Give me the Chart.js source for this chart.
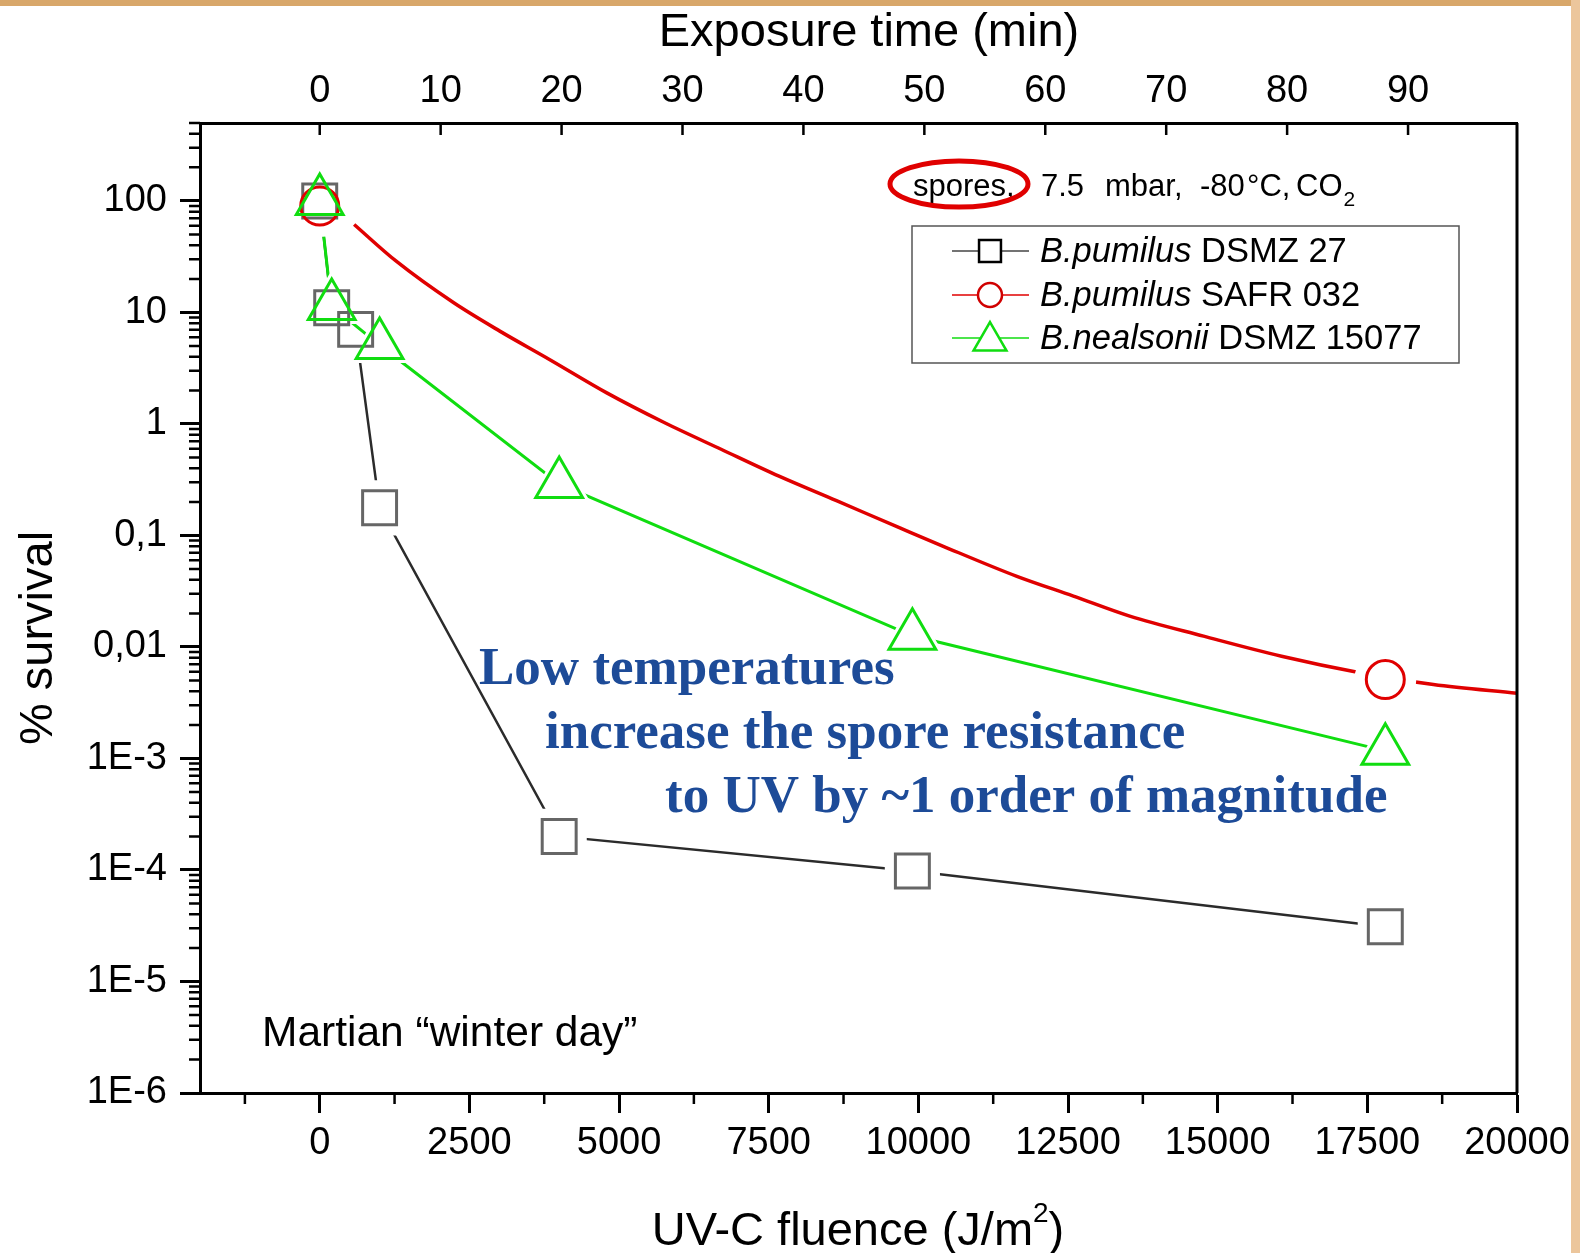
<!DOCTYPE html>
<html>
<head>
<meta charset="utf-8">
<script src="https://cdn.jsdelivr.net/npm/chart.js@4.4.1/dist/chart.umd.min.js"></script>
<style>
  html, body { margin: 0; padding: 0; background: #fff; }
  canvas { display: block; }
</style>
</head>
<body>
<canvas id="survival-chart" width="1580" height="1253"></canvas>
<script>
// UV-C fluence in J/m2, survival in %
const squareFluence = [0, 200, 600, 1000, 4000, 9900, 17800];
const squareSurvival = [100, 11, 7.05, 0.177, 2.0e-4, 9.8e-5, 3.1e-5];

const circleFluence = [0, 17800];
const circleSurvival = [90, 0.0051];

// fitted curve for the SAFR 032 points (visible part)
const fitFluence = [575, 1278, 2239, 3008, 3837, 4795, 5754, 6713, 7672, 8632, 9691, 10416, 11646, 12590, 13531, 14764, 16067, 17335, 18603, 20000];
const fitSurvival = [61.5, 28.8, 12.2, 6.8, 3.79, 1.9, 1.03, 0.59, 0.34, 0.205, 0.117, 0.080, 0.043, 0.0286, 0.0189, 0.0125, 0.00826, 0.00594, 0.00461, 0.00385];

const triangleFluence = [0, 200, 1000, 4000, 9900, 17800];
const triangleSurvival = [100, 11.4, 5.1, 0.29, 0.0126, 0.00117];

const seriesNames = ["B.pumilus", "B.pumilus", "B.nealsonii"];
const seriesStrains = ["DSMZ 27", "SAFR 032", "DSMZ 15077"];

const xTicks = [0, 2500, 5000, 7500, 10000, 12500, 15000, 17500, 20000];
const xMinorTicks = [-1250, 1250, 3750, 6250, 8750, 11250, 13750, 16250, 18750];
const yTicks = [1e-6, 1e-5, 1e-4, 1e-3, 0.01, 0.1, 1, 10, 100];
const yTickLabels = ["1E-6", "1E-5", "1E-4", "1E-3", "0,01", "0,1", "1", "10", "100"];
const timeTicks = [0, 10, 20, 30, 40, 50, 60, 70, 80, 90];
const fluencePerMinute = 202; // J/m2 per minute of exposure

const SANS = "'Liberation Sans', Arial, sans-serif";
const SERIF = "'Liberation Serif', 'Times New Roman', serif";

const RED = "#e00000";
const GREEN = "#10dd10";
const GREY = "#666666";

function pts(xs, ys) {
    return xs.map((x, i) => ({ x: x, y: ys[i] }));
}

function markerPath(ctx, style, x, y, r) {
    ctx.beginPath();
    if (style === "rect") {
        const s = r * Math.SQRT1_2;
        ctx.rect(x - s, y - s, 2 * s, 2 * s);
    } else if (style === "circle") {
        ctx.arc(x, y, r, 0, Math.PI * 2);
    } else {
        ctx.moveTo(x, y - r);
        ctx.lineTo(x + r * 0.866, y + r / 2);
        ctx.lineTo(x - r * 0.866, y + r / 2);
        ctx.closePath();
    }
}

// white shapes slightly bigger than the markers, so the lines stop short of them
function maskSet(data, style, radius, order) {
    return {
        data: data, showLine: false, pointStyle: style, pointRadius: radius,
        pointBackgroundColor: "#fff", pointBorderWidth: 0, pointBorderColor: "#fff", order: order,
    };
}

const decoration = {
    id: "decoration",
    beforeDraw(chart) {
        const ctx = chart.ctx;
        ctx.save();
        ctx.fillStyle = "#fff";
        ctx.fillRect(0, 0, chart.width, chart.height);
        // bits of the slide background around the pasted plot
        ctx.fillStyle = "#d8a76a";
        ctx.fillRect(0, 0, chart.width, 6);
        ctx.fillStyle = "#ecc69c";
        ctx.fillRect(1571, 0, 9, chart.height);
        ctx.restore();
    },
    afterDraw(chart) {
        const ctx = chart.ctx;
        const area = chart.chartArea;
        const x = chart.scales.x;
        const y = chart.scales.y;
        ctx.save();
        ctx.strokeStyle = "#000";
        ctx.lineWidth = 3;

        // right frame line
        ctx.beginPath();
        ctx.moveTo(area.right, area.top);
        ctx.lineTo(area.right, area.bottom);
        ctx.stroke();

        // minor ticks, bottom axis
        ctx.lineWidth = 2.5;
        ctx.beginPath();
        xMinorTicks.forEach((v) => {
            const px = x.getPixelForValue(v);
            ctx.moveTo(px, area.bottom);
            ctx.lineTo(px, area.bottom + 11);
        });
        // minor ticks, log axis
        for (let d = -6; d <= 2; d++) {
            for (let k = 2; k <= 9; k++) {
                const v = k * Math.pow(10, d);
                if (v > y.max) continue;
                const py = y.getPixelForValue(v);
                ctx.moveTo(area.left, py);
                ctx.lineTo(area.left - 11, py);
            }
        }
        // top axis ticks point inward
        timeTicks.forEach((t) => {
            const px = x.getPixelForValue(t * fluencePerMinute);
            ctx.moveTo(px, area.top);
            ctx.lineTo(px, area.top + 12);
        });
        ctx.stroke();

        ctx.fillStyle = "#000";
        // axis titles
        ctx.font = "47px " + SANS;
        ctx.textAlign = "center";
        ctx.textBaseline = "alphabetic";
        ctx.fillText("Exposure time (min)", 869, 46);

        const t1 = "UV-C fluence (J/m", t2 = "2", t3 = ")";
        const w1 = ctx.measureText(t1).width;
        const w3 = ctx.measureText(t3).width;
        ctx.font = "28px " + SANS;
        const w2 = ctx.measureText(t2).width;
        let sx = 858 - (w1 + w2 + w3) / 2;
        ctx.textAlign = "left";
        ctx.font = "47px " + SANS;
        ctx.fillText(t1, sx, 1245);
        ctx.font = "28px " + SANS;
        ctx.fillText(t2, sx + w1, 1222);
        ctx.font = "47px " + SANS;
        ctx.fillText(t3, sx + w1 + w2, 1245);

        ctx.save();
        ctx.translate(52, 638);
        ctx.rotate(-Math.PI / 2);
        ctx.textAlign = "center";
        ctx.fillText("% survival", 0, 0);
        ctx.restore();

        // conditions line with the red ellipse
        ctx.font = "31px " + SANS;
        ctx.textAlign = "left";
        ctx.fillText("spores,", 913, 196);
        ctx.fillText("7.5", 1041, 196);
        ctx.fillText("mbar,", 1105, 196);
        ctx.fillText("-80", 1200, 196);
        ctx.fillText("\u00B0C,", 1247, 196);
        ctx.fillText("CO", 1296, 196);
        const wco = ctx.measureText("CO").width;
        ctx.font = "21px " + SANS;
        ctx.fillText("2", 1296 + wco + 1, 206);
        ctx.strokeStyle = RED;
        ctx.lineWidth = 5;
        ctx.beginPath();
        ctx.ellipse(959, 184, 69, 23, 0, 0, Math.PI * 2);
        ctx.stroke();

        // legend box
        ctx.strokeStyle = "#555";
        ctx.lineWidth = 1.5;
        ctx.strokeRect(912, 226, 547, 137);
        const rows = [251, 295, 338];
        const lineColors = ["#444", RED, GREEN];
        const markColors = ["#000", "#d00000", GREEN];
        const styles = ["rect", "circle", "triangle"];
        const radii = [15.5, 12, 19];
        rows.forEach((ry, i) => {
            ctx.strokeStyle = lineColors[i];
            ctx.lineWidth = 1.5;
            ctx.beginPath();
            ctx.moveTo(952, ry);
            ctx.lineTo(1029, ry);
            ctx.stroke();
            markerPath(ctx, styles[i], 990, ry + (i === 2 ? 3 : 0), radii[i]);
            ctx.fillStyle = "#fff";
            ctx.fill();
            ctx.strokeStyle = markColors[i];
            ctx.lineWidth = 2.5;
            ctx.stroke();
            ctx.fillStyle = "#000";
            ctx.textBaseline = "middle";
            ctx.font = "italic 34.5px " + SANS;
            ctx.fillText(seriesNames[i], 1040, ry + 1);
            const wn = ctx.measureText(seriesNames[i] + " ").width;
            ctx.font = "34.5px " + SANS;
            ctx.fillText(seriesStrains[i], 1040 + wn, ry + 1);
        });

        // message in the middle
        ctx.textBaseline = "alphabetic";
        ctx.fillStyle = "#1d4b98";
        ctx.font = "bold 53px " + SERIF;
        ctx.fillText("Low temperatures", 479, 684);
        ctx.fillText("increase the spore resistance", 545, 748);
        ctx.fillText("to UV by ~1 order of magnitude", 665, 812);

        ctx.fillStyle = "#000";
        ctx.font = "42.5px " + SANS;
        ctx.fillText("Martian \u201Cwinter day\u201D", 262, 1046);
        ctx.restore();
    },
};

const ctx = document.getElementById("survival-chart").getContext("2d");

const survivalChart = new Chart(ctx, {
    type: "line",
    data: {
        datasets: [
            // connecting lines and the fit
            { data: pts(squareFluence, squareSurvival), borderColor: "#2b2b2b", borderWidth: 2.5, pointRadius: 0, tension: 0, order: 9 },
            maskSet(pts(squareFluence, squareSurvival), "rect", 39, 8),
            { data: pts(triangleFluence, triangleSurvival), borderColor: GREEN, borderWidth: 3, pointRadius: 0, tension: 0, order: 7 },
            maskSet(pts(triangleFluence, triangleSurvival), "triangle", 36, 6),
            { data: pts(fitFluence, fitSurvival), borderColor: RED, borderWidth: 3.5, pointRadius: 0, cubicInterpolationMode: "monotone", order: 5 },
            maskSet(pts(circleFluence, circleSurvival), "circle", 31, 4),
            // markers
            { data: pts(squareFluence, squareSurvival), showLine: false, pointStyle: "rect", pointRadius: 24, pointBorderWidth: 3, pointBorderColor: GREY, pointBackgroundColor: "rgba(0,0,0,0)", order: 3 },
            { data: pts(circleFluence, circleSurvival), showLine: false, pointStyle: "circle", pointRadius: 19, pointBorderWidth: 3, pointBorderColor: RED, pointBackgroundColor: "rgba(0,0,0,0)", order: 2 },
            { data: pts(triangleFluence, triangleSurvival), showLine: false, pointStyle: "triangle", pointRadius: 27, pointBorderWidth: 3, pointBorderColor: GREEN, pointBackgroundColor: "rgba(0,0,0,0)", order: 1 },
        ],
    },
    options: {
        responsive: false,
        animation: false,
        events: [],
        layout: { padding: { left: 0, right: 63, top: 0, bottom: 0 } },
        plugins: { legend: { display: false }, tooltip: { enabled: false } },
        scales: {
            x: {
                type: "linear",
                position: "bottom",
                min: -2000,
                max: 20000,
                afterBuildTicks: (s) => { s.ticks = xTicks.map((v) => ({ value: v })); },
                afterFit: (s) => { s.height = 160; },
                grid: { drawOnChartArea: false, drawTicks: true, tickLength: 20, tickWidth: 3, tickColor: "#000" },
                border: { display: true, color: "#000", width: 3 },
                ticks: { font: { family: SANS, size: 38 }, color: "#000", padding: 8, maxRotation: 0, autoSkip: false, callback: (v) => String(v) },
            },
            time: {
                type: "linear",
                position: "top",
                min: -2000 / fluencePerMinute,
                max: 20000 / fluencePerMinute,
                afterBuildTicks: (s) => { s.ticks = timeTicks.map((v) => ({ value: v })); },
                afterFit: (s) => { s.height = 123; },
                grid: { drawOnChartArea: false, drawTicks: false },
                border: { display: true, color: "#000", width: 3 },
                ticks: { font: { family: SANS, size: 38 }, color: "#000", padding: 9, maxRotation: 0, autoSkip: false, callback: (v) => String(v) },
            },
            y: {
                type: "logarithmic",
                position: "left",
                min: 1e-6,
                max: 500,
                afterBuildTicks: (s) => { s.ticks = yTicks.map((v) => ({ value: v })); },
                afterFit: (s) => { s.width = 200; },
                grid: { drawOnChartArea: false, drawTicks: true, tickLength: 20, tickWidth: 3, tickColor: "#000" },
                border: { display: true, color: "#000", width: 3 },
                ticks: { font: { family: SANS, size: 38 }, color: "#000", padding: 13, autoSkip: false, callback: (v, i) => yTickLabels[i] },
            },
        },
    },
    plugins: [decoration],
});
</script>
</body>
</html>
